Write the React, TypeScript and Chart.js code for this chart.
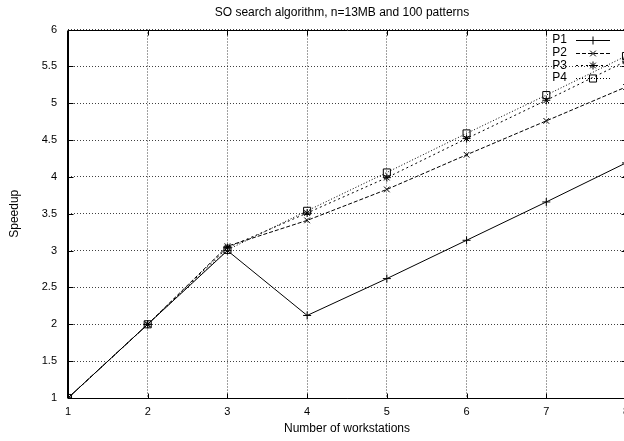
import React, { useEffect, useRef } from 'react';
import { Chart, registerables } from 'chart.js';
import { drawPoint } from 'chart.js/helpers';

Chart.register(...registerables);

const chartTitle = 'SO search algorithm, n=13MB and 100 patterns';
const xAxisTitle = 'Number of workstations';
const yAxisTitle = 'Speedup';

const workstations = [1, 2, 3, 4, 5, 6, 7, 8];
const seriesNames = ['P1', 'P2', 'P3', 'P4'];
const p1 = [1, 2, 3.0, 2.12, 2.62, 3.14, 3.66, 4.19];
const p2 = [1, 2, 3.06, 3.41, 3.83, 4.3, 4.76, 5.22];
const p3 = [1, 2, 3.04, 3.51, 3.99, 4.52, 5.04, 5.57];
const p4 = [1, 2, 3.01, 3.54, 4.06, 4.59, 5.11, 5.64];
const xTickValues = [1, 2, 3, 4, 5, 6, 7, 8];
const yTickValues = [1, 1.5, 2, 2.5, 3, 3.5, 4, 4.5, 5, 5.5, 6];

const seriesValues = [p1, p2, p3, p4];
const pointStyles = ['cross', 'crossRot', 'star', 'rect'];
const pointRadii = [4, 4, 4, 5];
const dashes = [[], [4, 2], [2, 3], [1, 2]];

const FONT = 'Liberation Sans, Arial, Helvetica, sans-serif';

const framePlugin = {
  id: 'gnuFrame',
  beforeDatasetsDraw(chart: any) {
    const { ctx, chartArea } = chart;
    const { left, right, top, bottom } = chartArea;
    const xs = chart.scales.x;
    const ys = chart.scales.y;
    const tl = 5;
    ctx.save();
    ctx.strokeStyle = '#000';
    ctx.lineWidth = 1;
    ctx.setLineDash([]);
    ctx.beginPath();
    const L = Math.round(left) + 0.5;
    const R = Math.round(right) + 0.5;
    const T = Math.round(top) + 0.5;
    const B = Math.round(bottom) + 0.5;
    ctx.rect(L, T, R - L, B - T);
    ctx.moveTo(L - 1, T);
    ctx.lineTo(L - 1, B);
    xTickValues.forEach((v) => {
      const px = Math.round(xs.getPixelForValue(v)) + 0.5;
      ctx.moveTo(px, B);
      ctx.lineTo(px, B - tl);
      ctx.moveTo(px, T);
      ctx.lineTo(px, T + tl);
    });
    yTickValues.forEach((v) => {
      const py = Math.round(ys.getPixelForValue(v)) + 0.5;
      ctx.moveTo(L, py);
      ctx.lineTo(L + tl, py);
      ctx.moveTo(R, py);
      ctx.lineTo(R - tl, py);
    });
    ctx.stroke();
    ctx.restore();
  },
};

const titleLegendPlugin = {
  id: 'gnuTitleLegend',
  afterDatasetsDraw(chart: any) {
    const { ctx } = chart;
    ctx.save();
    ctx.fillStyle = '#000';
    ctx.font = `12px ${FONT}`;
    ctx.textAlign = 'center';
    ctx.textBaseline = 'middle';
    ctx.fillText(chartTitle, 342, 12.5);

    const textRight = 567;
    const x0 = 576;
    const x1 = 610;
    const y0 = 40;
    const dy = 12.7;
    chart.data.datasets.forEach((ds: any, i: number) => {
      const y = y0 + i * dy;
      ctx.fillStyle = '#000';
      ctx.font = `12px ${FONT}`;
      ctx.textAlign = 'right';
      ctx.textBaseline = 'middle';
      ctx.fillText(ds.label, textRight, y);
      ctx.strokeStyle = '#000';
      ctx.lineWidth = 1;
      ctx.setLineDash(ds.borderDash || []);
      ctx.beginPath();
      ctx.moveTo(x0, Math.round(y) + 0.5);
      ctx.lineTo(x1, Math.round(y) + 0.5);
      ctx.stroke();
      ctx.setLineDash([]);
      ctx.fillStyle = 'rgba(0,0,0,0)';
      drawPoint(
        ctx,
        { pointStyle: ds.pointStyle, radius: ds.pointRadius, borderWidth: 1, rotation: 0 },
        (x0 + x1) / 2,
        Math.round(y) + 0.5
      );
    });
    ctx.restore();
  },
};

export default function App() {
  const canvasRef = useRef<HTMLCanvasElement | null>(null);

  useEffect(() => {
    if (!canvasRef.current) return;
    Chart.defaults.font.family = FONT;
    const datasets = seriesValues.map((vals, i) => ({
      label: seriesNames[i],
      data: workstations.map((x, j) => ({ x, y: vals[j] })),
      borderColor: '#000',
      backgroundColor: 'rgba(0,0,0,0)',
      borderWidth: 1,
      borderDash: dashes[i],
      pointStyle: pointStyles[i],
      pointRadius: pointRadii[i],
      pointBorderWidth: 1,
      pointBorderColor: '#000',
      pointBackgroundColor: 'rgba(0,0,0,0)',
      tension: 0,
      fill: false,
    }));

    const chart = new Chart(canvasRef.current, {
      type: 'line',
      data: { datasets },
      plugins: [framePlugin, titleLegendPlugin],
      options: {
        animation: false,
        responsive: true,
        maintainAspectRatio: false,
        layout: { padding: { top: 29.5, right: 14, left: 0, bottom: 0 } },
        plugins: {
          legend: { display: false },
          title: { display: false },
          tooltip: { enabled: false },
        },
        scales: {
          x: {
            type: 'linear',
            min: 1,
            max: 8,
            afterBuildTicks: (s: any) => {
              s.ticks = xTickValues.map((v) => ({ value: v }));
            },
            afterFit: (s: any) => {
              s.height = 43;
            },
            grid: { color: 'rgba(0,0,0,0.75)', lineWidth: 1, drawTicks: false },
            border: { display: false, dash: [1, 2] },
            ticks: {
              color: '#000',
              font: { size: 11, family: FONT },
              padding: 7,
              autoSkip: false,
              maxRotation: 0,
              callback: (v: any) => String(v),
            },
            title: {
              display: true,
              text: xAxisTitle,
              color: '#000',
              font: { size: 12, family: FONT },
              padding: { top: 0, bottom: 5.3 },
            },
          },
          y: {
            type: 'linear',
            min: 1,
            max: 6,
            afterBuildTicks: (s: any) => {
              s.ticks = yTickValues.map((v) => ({ value: v }));
            },
            afterFit: (s: any) => {
              s.width = 68;
            },
            grid: { color: 'rgba(0,0,0,0.75)', lineWidth: 1, drawTicks: false },
            border: { display: false, dash: [1, 2] },
            ticks: {
              color: '#000',
              font: { size: 11, family: FONT },
              padding: 11,
              callback: (v: any) => String(v),
            },
            title: {
              display: true,
              text: yAxisTitle,
              color: '#000',
              font: { size: 12, family: FONT },
              padding: { top: 7.8, bottom: 0 },
            },
          },
        },
      } as any,
    });
    return () => chart.destroy();
  }, []);

  return (
    <div
      style={{
        position: 'fixed',
        left: 0,
        top: 0,
        width: 624,
        height: 441,
        overflow: 'hidden',
        background: '#fff',
      }}
    >
      <div style={{ position: 'relative', width: 640, height: 441 }}>
        <canvas ref={canvasRef} />
      </div>
    </div>
  );
}
